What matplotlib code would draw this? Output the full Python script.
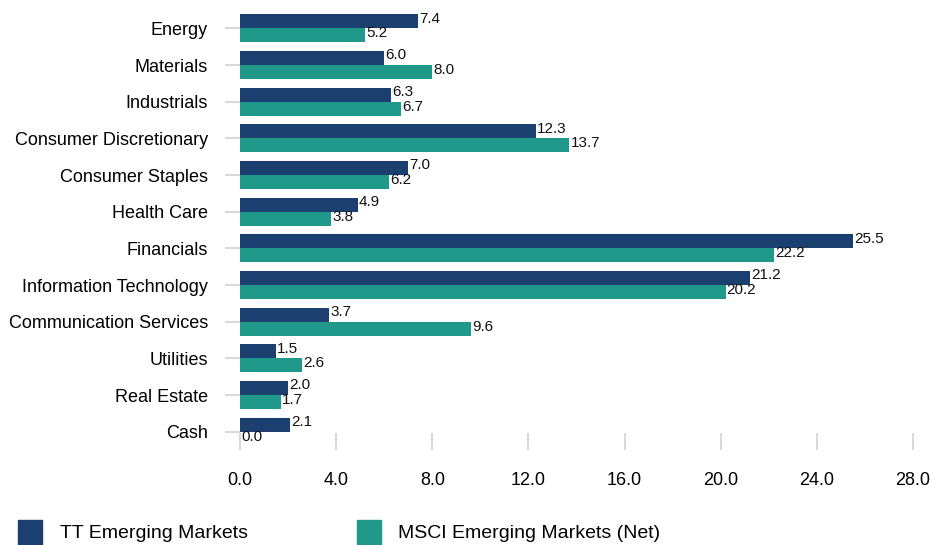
import matplotlib
matplotlib.use("Agg")
import matplotlib.pyplot as plt
from matplotlib.patches import Rectangle
from matplotlib import font_manager
import numpy as np

categories = ["Energy", "Materials", "Industrials", "Consumer Discretionary", "Consumer Staples",
              "Health Care", "Financials", "Information Technology", "Communication Services",
              "Utilities", "Real Estate", "Cash"]
tt_values = [7.4, 6.0, 6.3, 12.3, 7.0, 4.9, 25.5, 21.2, 3.7, 1.5, 2.0, 2.1]
msci_values = [5.2, 8.0, 6.7, 13.7, 6.2, 3.8, 22.2, 20.2, 9.6, 2.6, 1.7, 0.0]
series_names = ["TT Emerging Markets", "MSCI Emerging Markets (Net)"]
xticks = [0, 4, 8, 12, 16, 20, 24, 28]

navy = "#1b3f6e"
teal = "#20998a"

names = {f.name for f in font_manager.fontManager.ttflist}
fam = "Liberation Sans Narrow" if "Liberation Sans Narrow" in names else "Liberation Sans"
plt.rcParams["font.family"] = [fam, "DejaVu Sans"]

W, H = 933, 545
fig = plt.figure(figsize=(W / 100, H / 100), dpi=100)
ax = fig.add_axes([240 / W, 1 - 450 / H, (913 - 240) / W, (450 - 10) / H])

y = np.arange(len(categories))
bh = 0.38
ax.barh(y - bh / 2, tt_values, height=bh, color=navy, label=series_names[0])
ax.barh(y + bh / 2, msci_values, height=bh, color=teal, label=series_names[1])

for yi, v in zip(y, tt_values):
    ax.text(v + 0.05, yi - bh / 2 - 0.07, f"{v:.1f}", va="center", ha="left", fontsize=11, color="#111111")
for yi, v in zip(y, msci_values):
    ax.text(v + 0.05, yi + bh / 2 - 0.05, f"{v:.1f}", va="center", ha="left", fontsize=11, color="#111111")

ax.set_ylim(len(categories) - 0.5, -0.5)
ax.set_xlim(0, 28)
ax.set_yticks(y)
ax.set_yticklabels(categories, fontsize=13)
ax.set_xticks(xticks)
ax.set_xticklabels([f"{t:.1f}" for t in xticks], fontsize=13)
ax.tick_params(axis="y", length=11, width=1.5, color="#d9d9d9", pad=12)
ax.tick_params(axis="x", direction="in", length=12, width=1.5, color="#d9d9d9", pad=16)
for s in ax.spines.values():
    s.set_visible(False)

# legend
fig.patches.append(Rectangle((18 / W, 1 - 545 / H), 24 / W, 25 / H, transform=fig.transFigure,
                             color=navy, clip_on=False))
fig.text(60 / W, 1 - 534 / H, series_names[0], fontsize=14, va="center", ha="left")
fig.patches.append(Rectangle((357 / W, 1 - 545 / H), 24 / W, 25 / H, transform=fig.transFigure,
                             color=teal, clip_on=False))
fig.text(398 / W, 1 - 534 / H, series_names[1], fontsize=14, va="center", ha="left")

fig.savefig("out.png", dpi=100)
